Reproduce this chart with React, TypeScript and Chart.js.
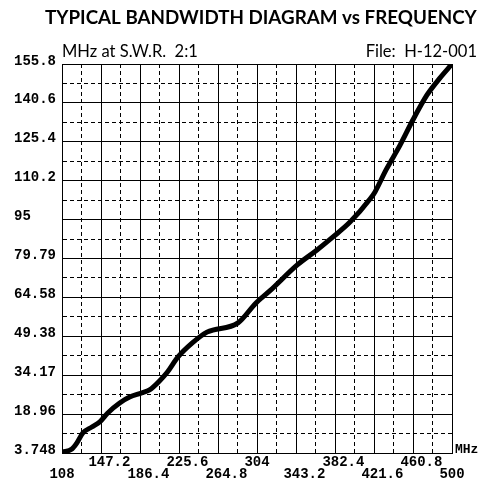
import { useEffect, useRef } from 'react';
import { Chart, registerables } from 'chart.js';

Chart.register(...registerables);

const titleText = 'TYPICAL BANDWIDTH DIAGRAM vs FREQUENCY';
const subtitleLeft = 'MHz at S.W.R.  2:1';
const subtitleRight = 'File:  H-12-001';
const xUnit = 'MHz';

const xTickLabels = ['108', '147.2', '186.4', '225.6', '264.8', '304', '343.2', '382.4', '421.6', '460.8', '500'];
const yTickLabels = ['3.748', '18.96', '34.17', '49.38', '64.58', '79.79', '95', '110.2', '125.4', '140.6', '155.8'];

const frequencies = [108, 118, 123, 129, 138, 146, 154, 166, 176, 188, 196, 206, 214, 224.6, 238.7, 253.7, 284.9, 303, 317.1, 344.2, 364.3, 380.4, 397.5, 417.6, 422.6, 433.7, 447.8, 460.8, 474.9, 488, 500];
const bandwidths = [4.1, 5.3, 7.7, 11.6, 13.9, 15.9, 19.4, 23.3, 25.6, 27.2, 28.4, 31.9, 35.4, 41.3, 46.7, 51.0, 54.6, 62.4, 67.2, 77.2, 83.1, 88.2, 94.0, 103.0, 105.8, 114.4, 124.1, 134.0, 143.7, 150.4, 155.8];

const withMidpoints = (vals: number[]) => {
  const out: { value: number }[] = [];
  vals.forEach((v, i) => {
    out.push({ value: v });
    if (i < vals.length - 1) out.push({ value: (v + vals[i + 1]) / 2 });
  });
  return out;
};

const xMajor = xTickLabels.map(Number);
const yMajor = yTickLabels.map(Number);

const tickFont = { family: '"Liberation Mono", monospace', size: 14, weight: 'bold' as const, lineHeight: 12 / 14 };

const fitFont = (ctx: CanvasRenderingContext2D, text: string, weight: string, family: string, width: number) => {
  ctx.font = `${weight} 18px ${family}`;
  const w = ctx.measureText(text).width;
  const size = (18 * width) / w;
  ctx.font = `${weight} ${size.toFixed(2)}px ${family}`;
};

const textPlugin = {
  id: 'texts',
  afterDraw(chart: any) {
    const ctx = chart.ctx as CanvasRenderingContext2D;
    ctx.save();
    ctx.fillStyle = '#000';
    ctx.textBaseline = 'alphabetic';
    fitFont(ctx, titleText, 'bold', 'Lato, sans-serif', 432);
    ctx.textAlign = 'left';
    ctx.fillText(titleText, 45, 24);
    fitFont(ctx, subtitleLeft, 'normal', 'Lato, sans-serif', 136);
    ctx.fillText(subtitleLeft, 62, 57);
    ctx.textAlign = 'right';
    ctx.fillText(subtitleRight, 477, 57);
    ctx.textAlign = 'left';
    ctx.font = 'bold 13px "Liberation Mono", monospace';
    ctx.fillText(xUnit, chart.chartArea.right + 3, chart.chartArea.bottom);
    ctx.restore();
  },
};

const dashFn = (c: any) => (c.type === 'tick' && c.index % 2 === 1 ? [4, 3] : []);

export default function App() {
  const ref = useRef<HTMLCanvasElement>(null);
  useEffect(() => {
    const chart = new Chart(ref.current!, {
      type: 'line',
      data: {
        datasets: [
          {
            data: frequencies.map((f, i) => ({ x: f, y: bandwidths[i] })),
            borderColor: '#000',
            borderWidth: 5,
            pointRadius: 0,
            cubicInterpolationMode: 'monotone',
            borderJoinStyle: 'round',
            borderCapStyle: 'round',
          },
        ],
      },
      options: {
        animation: false,
        responsive: false,
        layout: { padding: { left: 14, right: 32, top: 64, bottom: 0 } },
        plugins: { legend: { display: false }, tooltip: { enabled: false }, title: { display: false } },
        scales: {
          x: {
            type: 'linear',
            min: xMajor[0],
            max: xMajor[xMajor.length - 1],
            afterBuildTicks: (s: any) => { s.ticks = withMidpoints(xMajor); },
            afterFit: (s: any) => { s.height = 29; },
            grid: { color: '#000', lineWidth: 1, drawTicks: false },
            border: { display: true, color: '#000', width: 1, dash: dashFn },
            ticks: {
              autoSkip: false,
              maxRotation: 0,
              align: 'start',
              labelOffset: -12.6,
              padding: 3,
              color: '#000',
              font: tickFont,
              callback: (_v: any, i: number) => {
                if (i % 2 === 1) return '';
                const k = i / 2;
                return k % 2 === 0 ? ['', xTickLabels[k]] : xTickLabels[k];
              },
            },
          },
          y: {
            type: 'linear',
            min: yMajor[0],
            max: yMajor[yMajor.length - 1],
            afterBuildTicks: (s: any) => { s.ticks = withMidpoints(yMajor); },
            afterFit: (s: any) => { s.width = 48; },
            grid: { color: '#000', lineWidth: 1, drawTicks: false },
            border: { display: true, color: '#000', width: 1, dash: dashFn },
            ticks: {
              autoSkip: false,
              crossAlign: 'far',
              labelOffset: -3,
              color: '#000',
              font: tickFont,
              callback: (_v: any, i: number) => (i % 2 === 1 ? '' : yTickLabels[i / 2]),
            },
          },
        },
      },
      plugins: [textPlugin],
    } as any);
    return () => chart.destroy();
  }, []);
  return (
    <div style={{ position: 'fixed', left: 0, top: 0, width: 484, height: 482, background: '#fff' }}>
      <canvas ref={ref} width={484} height={482} style={{ display: 'block' }} />
    </div>
  );
}
